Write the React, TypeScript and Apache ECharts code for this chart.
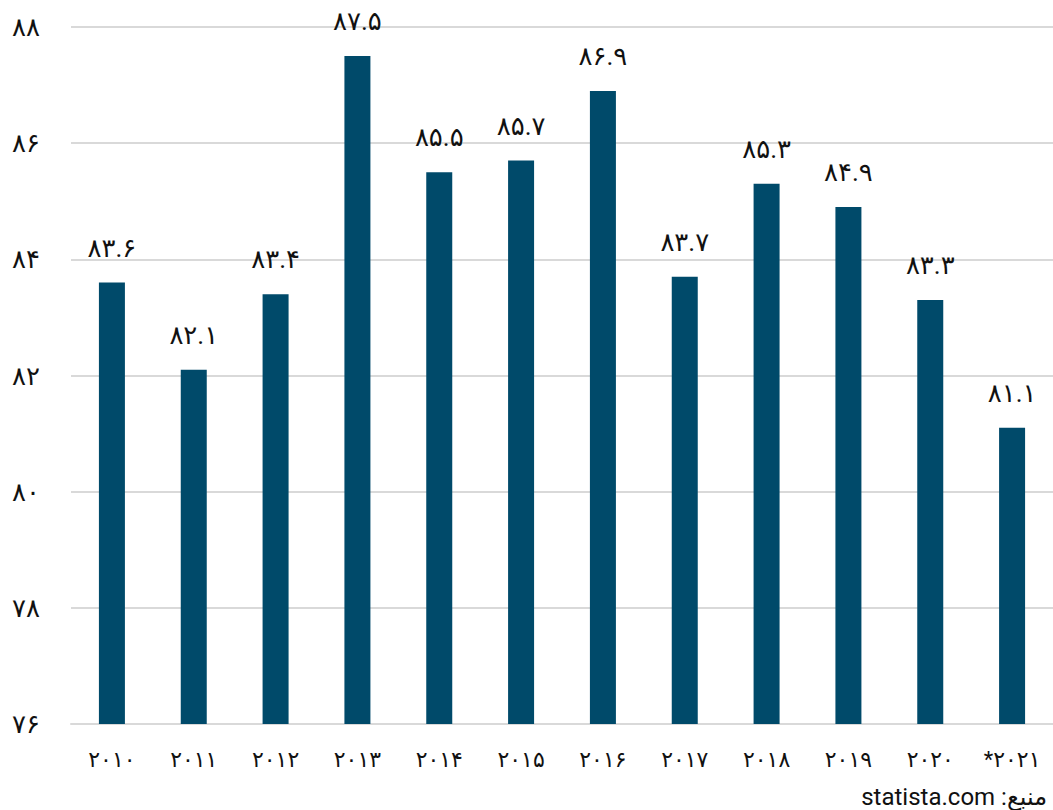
import React, { useEffect, useRef } from "react";
import * as echarts from "echarts";

const years = ["۲۰۱۰", "۲۰۱۱", "۲۰۱۲", "۲۰۱۳", "۲۰۱۴", "۲۰۱۵", "۲۰۱۶", "۲۰۱۷", "۲۰۱۸", "۲۰۱۹", "۲۰۲۰", "*۲۰۲۱"];
const values = [83.6, 82.1, 83.4, 87.5, 85.5, 85.7, 86.9, 83.7, 85.3, 84.9, 83.3, 81.1];
const yMin = 76;
const yMax = 88;
const yStep = 2;
const sourceText = "statista.com :منبع";

const persianDigits = ["۰", "۱", "۲", "۳", "۴", "۵", "۶", "۷", "۸", "۹"];
const toPersian = (v: number | string) =>
  String(v).replace(/[0-9]/g, (d) => persianDigits[Number(d)]);

const FONT = "Roboto, 'DejaVu Sans', 'Noto Sans', sans-serif";

export default function App() {
  const ref = useRef<HTMLDivElement>(null);
  useEffect(() => {
    if (!ref.current) return;
    const chart = echarts.init(ref.current, undefined, { renderer: "svg" });
    chart.setOption({
      animation: false,
      backgroundColor: "#ffffff",
      textStyle: { fontFamily: FONT },
      grid: { left: 71, right: 0, top: 27, bottom: 86, containLabel: false },
      xAxis: {
        type: "category",
        data: years,
        axisLine: { show: true, lineStyle: { color: "#d9d9d9", width: 2 } },
        axisTick: { show: false },
        axisLabel: { color: "#111", fontSize: 22, margin: 24, fontFamily: FONT },
      },
      yAxis: {
        type: "value",
        min: yMin,
        max: yMax,
        interval: yStep,
        axisLine: { show: false },
        axisTick: { show: false },
        splitLine: { lineStyle: { color: "#d9d9d9", width: 2 } },
        axisLabel: {
          color: "#111",
          fontSize: 26,
          align: "left",
          margin: 59,
          fontFamily: FONT,
          formatter: (v: number) => toPersian(v),
        },
      },
      series: [
        {
          type: "bar",
          data: values,
          barWidth: 26,
          itemStyle: { color: "#004a6a" },
          label: {
            show: true,
            position: "top",
            distance: 22,
            color: "#111",
            fontSize: 26,
            fontFamily: FONT,
            formatter: (p: any) => toPersian(p.value.toFixed(1)),
          },
        },
      ],
      graphic: [
        {
          type: "text",
          right: 6,
          bottom: 1,
          style: { text: sourceText, fontSize: 24, fill: "#111", fontFamily: FONT },
        },
      ],
    });
    return () => chart.dispose();
  }, []);
  return <div ref={ref} style={{ width: 1053, height: 810, position: "absolute", left: 0, top: 0 }} />;
}
